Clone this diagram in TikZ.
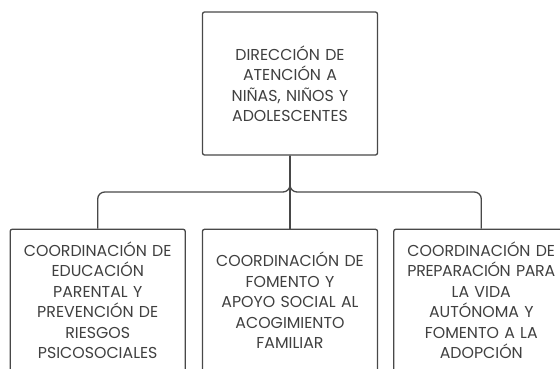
\documentclass[tikz,border=0pt]{standalone}
\usepackage{fontspec}
\setmainfont{Poppins}
\usetikzlibrary{positioning}

\definecolor{linea}{HTML}{484848}
\definecolor{texto}{HTML}{404040}

\tikzset{
  caja/.style={draw=linea, line width=1.3pt, rounded corners=2pt, fill=white,
    text=texto, align=center, text width=173pt, minimum width=175pt,
    inner sep=1pt, font=\fontsize{15.8}{20.5}\selectfont},
  enlace/.style={draw=linea, line width=1.3pt, rounded corners=7pt}
}

\begin{document}
\begin{tikzpicture}[x=1pt, y=1pt, node distance=16pt]
  \useasboundingbox (0,0) rectangle (560,368);

  \node[caja, minimum height=143pt] (D) at (290,284.5)
    {DIRECCIÓN DE\\ ATENCIÓN A\\ NIÑAS, NIÑOS Y\\ ADOLESCENTES};
  \node[caja, minimum height=142pt] (M) [below=73pt of D]
    {COORDINACIÓN DE\\ FOMENTO Y\\ APOYO SOCIAL AL\\ ACOGIMIENTO\\ FAMILIAR};
  \node[caja, minimum height=142pt] (L) [left=16pt of M]
    {COORDINACIÓN DE\\ EDUCACIÓN\\ PARENTAL Y\\ PREVENCIÓN DE\\ RIESGOS\\ PSICOSOCIALES};
  \node[caja, minimum height=142pt, text width=165pt] (R) [right=15pt of M]
    {COORDINACIÓN DE\\ {\addfontfeature{LetterSpace=-2}PREPARACIÓN PARA}\\ LA VIDA\\ AUTÓNOMA Y\\ FOMENTO A LA\\ ADOPCIÓN};

  % Verbindungen
  \coordinate (J) at (D.south |- 0,176);
  \draw[enlace] (D.south) -- (M.north);
  \draw[enlace] (D.south) -- (J) -| (L.north);
  \draw[enlace] (D.south) -- (J) -| (R.north);
\end{tikzpicture}
\end{document}
